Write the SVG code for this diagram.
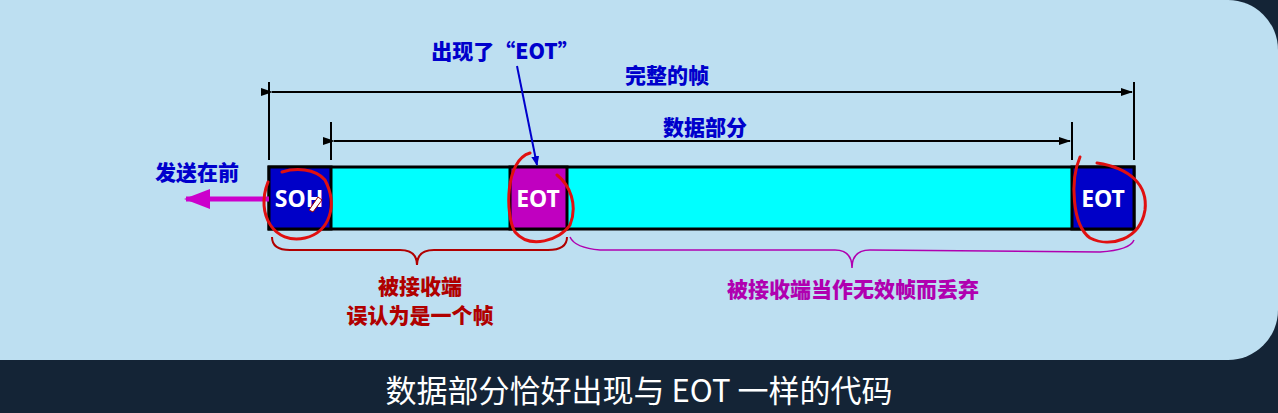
<svg xmlns="http://www.w3.org/2000/svg" width="1278" height="413" viewBox="0 0 1278 413">
<defs>
<marker id="ah" markerWidth="12" markerHeight="8" refX="11" refY="4" orient="auto" markerUnits="userSpaceOnUse"><path d="M0,0 L12,4 L0,8 Z" fill="#000"/></marker>
<marker id="ahb" markerWidth="10" markerHeight="8" refX="9" refY="4" orient="auto" markerUnits="userSpaceOnUse"><path d="M0,0 L10,4 L0,8 Z" fill="#0000cc"/></marker>
<marker id="ahm" markerWidth="26" markerHeight="20" refX="24" refY="10" orient="auto" markerUnits="userSpaceOnUse"><path d="M0,0 L26,10 L0,20 Z" fill="#cc00cc"/></marker>
</defs>
<style>
.t{font-family:"Noto Sans CJK SC","Liberation Sans",sans-serif;font-weight:900;}
.c{font-family:"Noto Sans","Liberation Sans",sans-serif;font-weight:bold;fill:#fff;font-size:23px;text-anchor:middle}
.dim{stroke:#000;stroke-width:2;fill:none}
.red{stroke:#e01010;stroke-width:3;fill:none;stroke-linecap:round}
</style>
<rect width="1278" height="413" fill="#142436"/>
<rect x="-60" y="0" width="1338" height="360" rx="50" fill="#bddff1"/>
<g id="labels" class="t">
<text x="505" y="59" font-size="21" fill="#0000cc" text-anchor="middle">出现了“EOT”</text>
<text x="667" y="83" font-size="21" fill="#0000cc" text-anchor="middle">完整的帧</text>
<text x="705" y="135" font-size="21" fill="#0000cc" text-anchor="middle">数据部分</text>
<text x="197" y="180" font-size="21" fill="#0000cc" text-anchor="middle">发送在前</text>
<text x="420" y="294" font-size="21" fill="#b00000" text-anchor="middle">被接收端</text>
<text x="420" y="323" font-size="21" fill="#b00000" text-anchor="middle">误认为是一个帧</text>
<text x="853" y="297" font-size="21" fill="#b000b0" text-anchor="middle">被接收端当作无效帧而丢弃</text>
<text x="639" y="402" font-size="31" fill="#fff" text-anchor="middle" font-weight="normal">数据部分恰好出现与 EOT 一样的代码</text>
</g>
<g id="frame">
<rect x="269" y="167" width="865" height="62" fill="#00ffff" stroke="#000" stroke-width="3"/>
</g>
<g id="soh"><rect x="269" y="167" width="62" height="62" fill="#0000c8" stroke="#000" stroke-width="3"/><text class="c" x="299" y="207">SOH</text></g>
<g id="eot1"><rect x="510" y="167" width="57" height="62" fill="#c000c0" stroke="#000" stroke-width="3"/><text class="c" x="538" y="207">EOT</text></g>
<g id="eot2"><rect x="1072" y="167" width="62" height="62" fill="#0000c8" stroke="#000" stroke-width="3"/><text class="c" x="1103" y="207">EOT</text></g>
<g id="connectors">
<path class="dim" d="M269,82V160M1134,82V160M331,122V160M1072,122V160"/>
<line class="dim" x1="272" y1="92" x2="1132" y2="92" marker-start="url(#ah)" marker-end="url(#ah)"/>
<line class="dim" x1="334" y1="141" x2="1070" y2="141" marker-start="url(#ah)" marker-end="url(#ah)"/>
<line x1="517" y1="66" x2="537" y2="165" stroke="#0000cc" stroke-width="2" marker-end="url(#ahb)"/>
<line x1="269" y1="199" x2="186" y2="199" stroke="#cc00cc" stroke-width="5" marker-end="url(#ahm)"/>
<path d="M272,237 Q272,250 290,250 L400,250 Q417,250 417,265 Q417,250 434,250 L548,250 Q567,250 567,237" stroke="#b00000" stroke-width="2" fill="none"/>
<path d="M570,237 Q575,248 600,250 L835,250 Q852,250 852,268 Q852,250 870,250 L1100,252 Q1130,250 1134,240" stroke="#b000b0" stroke-width="1.5" fill="none"/>
</g>
<g id="marks">
<path class="red" d="M268,182 C255,215 275,245 305,238 C330,232 338,205 325,180 C315,168 295,168 282,172"/>
<path class="red" d="M530,153 C505,160 505,215 515,232 C530,250 560,240 570,225 C578,205 570,185 557,175"/>
<path class="red" d="M1080,157 C1070,180 1072,225 1090,238 C1110,248 1140,240 1145,210 C1148,185 1130,168 1097,163"/>
<path d="M309,210 L318,197 L322,200 L313,212 Z" fill="#fff" stroke="#900" stroke-width="1"/>
</g>
</svg>
